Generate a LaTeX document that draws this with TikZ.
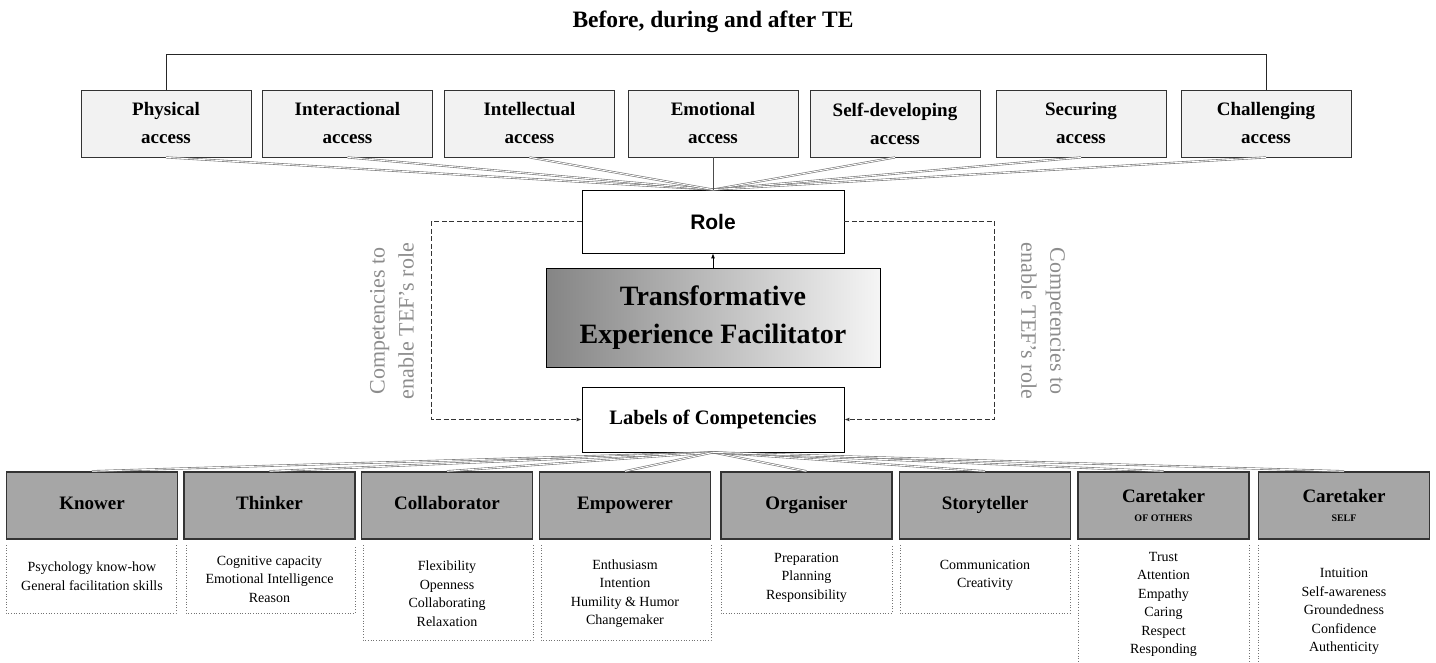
\documentclass[tikz,border=0pt]{standalone}
\usepackage{fontspec}
\setmainfont{Liberation Serif}
\setsansfont{Liberation Sans}
\usetikzlibrary{arrows.meta}
\begin{document}
\begin{tikzpicture}[x=1pt,y=-1pt,
  accessbox/.style={draw=black!80, line width=0.8pt, fill=black!5, minimum width=170pt,
    minimum height=67pt, align=center, inner sep=0pt,
    font=\fontsize{19}{28}\selectfont\bfseries},
  headbox/.style={draw=black!80, line width=1.6pt, fill=black!35, minimum width=171pt,
    minimum height=67pt, align=center, inner sep=0pt,
    font=\fontsize{19}{22}\selectfont\bfseries},
  onehead/.style={headbox, text height=13pt, text depth=4.5pt},
  listtext/.style={align=center, inner sep=0pt, font=\fontsize{14}{18.5}\selectfont},
  listframe/.style={draw=black!55, line width=0.7pt, dotted},
  link/.style={draw=black!55, line width=0.6pt, double=white, double distance=0.9pt},
  dashlink/.style={draw=black!80, line width=0.9pt, dash pattern=on 5pt off 2.5pt,
    -{Latex[length=5pt,width=4pt]}},
  rotlabel/.style={text=black!45, align=center, inner sep=0pt,
    font=\fontsize{22}{29}\selectfont},
]
\useasboundingbox (0,0) rectangle (1436,663);

% heading
\node[font=\bfseries\fontsize{23.5}{28}\selectfont] (title) at (713,22) {Before, during and after TE};

% access boxes
\node[accessbox] (phys)    at (166,123.5)  {Physical\\access};
\node[accessbox] (inter)   at (347.5,123.5) {Interactional\\access};
\node[accessbox] (intel)   at (529.5,123.5) {Intellectual\\access};
\node[accessbox] (emo)     at (713,123.5)  {Emotional\\access};
\node[accessbox] (selfdev) at (895,123.5)  {Self-developing\\access};
\node[accessbox] (secur)   at (1081,123.5) {Securing\\access};
\node[accessbox] (chall)   at (1266,123.5) {Challenging\\access};

\draw[line width=1pt, draw=black!85] (phys.north) -- ++(0,-35) -| (chall.north);

% centre column
\node[draw=black, line width=0.8pt, minimum width=262pt, minimum height=63pt, inner sep=0pt,
  font=\sffamily\bfseries\fontsize{21}{25}\selectfont] (role) at (713,221.5) {Role};
\node[draw=black, line width=1pt, left color=black!48, right color=black!4,
  minimum width=334pt, minimum height=98pt, align=center, inner sep=0pt,
  font=\bfseries\fontsize{28}{38}\selectfont] (tef) at (713,318)
  {Transformative\\Experience Facilitator};
\node[draw=black, line width=0.8pt, minimum width=262pt, minimum height=65pt, inner sep=0pt,
  font=\bfseries\fontsize{20.5}{24}\selectfont] (labels) at (713,419.5) {Labels of Competencies};

\foreach \n in {phys,inter,intel,selfdev,secur,chall}
  \draw[link] (\n.south) -- (role.north);
\draw[draw=black!70, line width=0.8pt] (emo.south) -- (role.north);

\draw[line width=0.8pt, -{Latex[length=5pt,width=4pt]}] (tef.north) -- (role.south);

\draw[dashlink] (role.west) -- ++(-150,0) |- (labels.west);
\draw[dashlink] (role.east) -- ++(150,0) |- (labels.east);

\node[rotlabel, rotate=90]  (compL) at (392,321) {Competencies to\\enable TEF's role};
\node[rotlabel, rotate=-90] (compR) at (1043,321) {Competencies to\\enable TEF's role};

% competency headers
\node[onehead] (knower)  at (92,505.5)   {Knower};
\node[onehead] (thinker) at (269.5,505.5) {Thinker};
\node[onehead] (collab)  at (447,505.5)  {Collaborator};
\node[onehead] (empow)   at (625,505.5)  {Empowerer};
\node[onehead] (organ)   at (806.5,505.5) {Organiser};
\node[onehead] (story)   at (985,505.5)  {Storyteller};
\node[headbox] (careo)   at (1163.5,505.5) {Caretaker\\[-3pt]{\fontsize{10}{12}\selectfont OF OTHERS}};
\node[headbox] (cares)   at (1344,505.5) {Caretaker\\[-3pt]{\fontsize{10}{12}\selectfont SELF}};

\foreach \n in {knower,thinker,collab,empow,organ,story,careo,cares}
  \draw[link] (labels.south) -- (\n.north);

% competency lists
\draw[listframe] (6,545) -- (6,613) -- (176,613) -- (176,545);
\draw[listframe] (186,545) -- (186,613) -- (355,613) -- (355,545);
\draw[listframe] (363,545) -- (363,640) -- (533,640) -- (533,545);
\draw[listframe] (541,545) -- (541,640) -- (711,640) -- (711,545);
\draw[listframe] (721,545) -- (721,613) -- (892,613) -- (892,545);
\draw[listframe] (900,545) -- (900,613) -- (1070,613) -- (1070,545);
\draw[listframe] (1078,545) -- (1078,663);
\draw[listframe] (1249,545) -- (1249,663);
\draw[listframe] (1258,545) -- (1258,663);

\node[listtext] (lknower)  at (92,576)    {Psychology know-how\\General facilitation skills};
\node[listtext] (lthinker) at (269.5,579) {Cognitive capacity\\Emotional Intelligence\\Reason};
\node[listtext] (lcollab)  at (447,593.5) {Flexibility\\Openness\\Collaborating\\Relaxation};
\node[listtext] (lempow)   at (625,593.5) {Enthusiasm\\Intention\\Humility \& Humor\\Changemaker};
\node[listtext] (lorgan)   at (806.5,577.5) {Preparation\\Planning\\Responsibility};
\node[listtext] (lstory)   at (985,575.5) {Communication\\Creativity};
\node[listtext] (lcareo)   at (1163.5,604.5) {Trust\\Attention\\Empathy\\Caring\\Respect\\Responding};
\node[listtext] (lcares)   at (1344,611.5) {Intuition\\Self-awareness\\Groundedness\\Confidence\\Authenticity};
\end{tikzpicture}
\end{document}
